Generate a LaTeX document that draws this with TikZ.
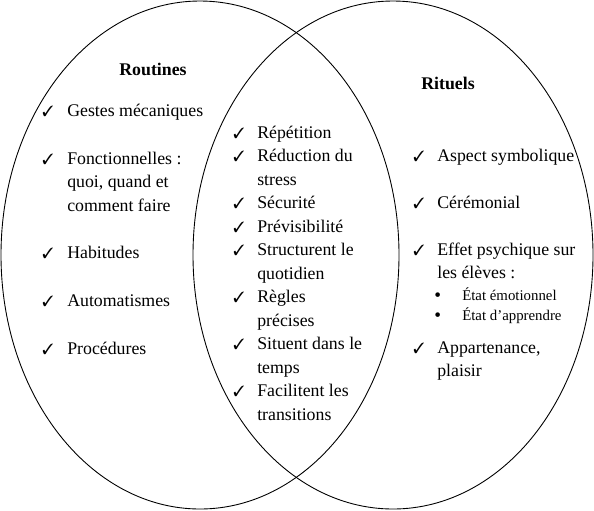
\documentclass[tikz,border=0pt]{standalone}
\usepackage{fontspec}
\setmainfont{Liberation Serif}
\usepackage{pifont}
\usepackage{tikz}

\tikzset{
  set/.style={draw, line width=0.6pt},
  title/.style={anchor=base, inner sep=0pt, font=\fontsize{12}{14}\selectfont\bfseries},
  item/.style={anchor=base west, inner sep=0pt, font=\fontsize{12}{14}\selectfont},
  small/.style={anchor=base west, inner sep=0pt, font=\fontsize{10}{12}\selectfont},
  dot/.style={anchor=base west, inner sep=0pt, font=\fontsize{13}{14}\selectfont},
  tick/.style={anchor=base west, inner sep=0pt, font=\fontsize{10}{12}\selectfont}
}

\begin{document}
\begin{tikzpicture}[x=0.0237cm, y=-0.0237cm]
            \useasboundingbox (0,0) rectangle (594,510);

            % the two sets
            \draw[set] (200,255) ellipse (199 and 254);
            \draw[set] (393,255) ellipse (200 and 254);

            % routines
            \node[title] (routines) at (153,75) {Routines};
            \node[tick] (t1) at (42,116) {\ding{51}};
            \node[item] (gestes) at (67,116) {Gestes mécaniques};
            \node[tick] (t2) at (42,164) {\ding{51}};
            \node[item] (fonc) at (67,164) {Fonctionnelles :};
            \node[item] (fonc2) at (67,187.5) {quoi, quand et};
            \node[item] (fonc3) at (67,211) {comment faire};
            \node[tick] (t3) at (42,258) {\ding{51}};
            \node[item] (habit) at (67,258) {Habitudes};
            \node[tick] (t4) at (42,306) {\ding{51}};
            \node[item] (auto) at (67,306) {Automatismes};
            \node[tick] (t5) at (42,354) {\ding{51}};
            \node[item] (proc) at (67,354) {Procédures};

            % shared part
            \node[tick] (m1) at (233,138) {\ding{51}};
            \node[item] (repet) at (257,138) {Répétition};
            \node[tick] (m2) at (233,161.5) {\ding{51}};
            \node[item] (reduc) at (257,161.5) {Réduction du};
            \node[item] (reduc2) at (257,185) {stress};
            \node[tick] (m3) at (233,208.5) {\ding{51}};
            \node[item] (secur) at (257,208.5) {Sécurité};
            \node[tick] (m4) at (233,232) {\ding{51}};
            \node[item] (previs) at (257,232) {Prévisibilité};
            \node[tick] (m5) at (233,255.5) {\ding{51}};
            \node[item] (struct) at (257,255.5) {Structurent le};
            \node[item] (struct2) at (257,279) {quotidien};
            \node[tick] (m6) at (233,302.5) {\ding{51}};
            \node[item] (regles) at (257,302.5) {Règles};
            \node[item] (regles2) at (257,326) {précises};
            \node[tick] (m7) at (233,349.5) {\ding{51}};
            \node[item] (situent) at (257,349.5) {Situent dans le};
            \node[item] (situent2) at (257,373) {temps};
            \node[tick] (m8) at (233,396.5) {\ding{51}};
            \node[item] (facil) at (257,396.5) {Facilitent les};
            \node[item] (facil2) at (257,420) {transitions};

            % rituels
            \node[title] (rituels) at (448,89) {Rituels};
            \node[tick] (r1) at (413,161) {\ding{51}};
            \node[item] (aspect) at (437,161) {Aspect symbolique};
            \node[tick] (r2) at (413,208) {\ding{51}};
            \node[item] (ceremo) at (437,208) {Cérémonial};
            \node[tick] (r3) at (413,255) {\ding{51}};
            \node[item] (effet) at (437,255) {Effet psychique sur};
            \node[item] (effet2) at (437,278.5) {les élèves :};
            \node[dot] (b1) at (434,301) {•};
            \node[small] (emo) at (462,300) {État émotionnel};
            \node[dot] (b2) at (434,321) {•};
            \node[small] (appr) at (462,320) {État d’apprendre};
            \node[tick] (r4) at (413,353) {\ding{51}};
            \node[item] (appart) at (437,353) {Appartenance,};
            \node[item] (appart2) at (437,376.5) {plaisir};
        \end{tikzpicture}
\end{document}
